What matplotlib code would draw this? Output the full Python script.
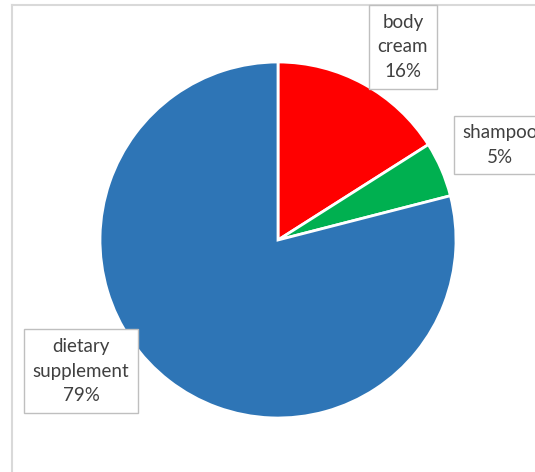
import matplotlib.pyplot as plt
from matplotlib.lines import Line2D

categories = ["body\ncream", "shampoo", "dietary\nsupplement"]
shares = [16, 5, 79]
colors = ["#ff0000", "#00b050", "#2e75b6"]

# label anchor positions in figure pixels (x, y from top)
label_pos = [(403, 47), (500, 145), (81, 371)]

W, H = 535, 472
fig = plt.figure(figsize=(W / 100, H / 100), dpi=100)
plt.rcParams["font.family"] = ["Lato", "DejaVu Sans"]

# outer chart frame (cropped on the right and bottom)
frame_kw = dict(color="#d9d9d9", linewidth=1.5, transform=fig.transFigure)
fig.add_artist(Line2D([12 / W, 12 / W], [0, 1 - 5 / H], **frame_kw))
fig.add_artist(Line2D([12 / W, 1], [1 - 5 / H, 1 - 5 / H], **frame_kw))

cx, cy, r = 278, 240, 178
ax = fig.add_axes([(cx - r) / W, 1 - (cy + r) / H, 2 * r / W, 2 * r / H])
ax.pie(shares, colors=colors, startangle=90, counterclock=False,
       wedgeprops=dict(edgecolor="white", linewidth=2))
ax.set_xlim(-1, 1)
ax.set_ylim(-1, 1)
ax.set_aspect("equal")
ax.axis("off")

for name, val, (px, py) in zip(categories, shares, label_pos):
    fig.text(px / W, 1 - py / H, f"{name}\n{val}%", ha="center", va="center",
             fontsize=13.5, color="#404040", linespacing=1.55,
             bbox=dict(boxstyle="square,pad=0.45", facecolor="white",
                       edgecolor="#bfbfbf", linewidth=1))

fig.savefig("out.png", dpi=100)
